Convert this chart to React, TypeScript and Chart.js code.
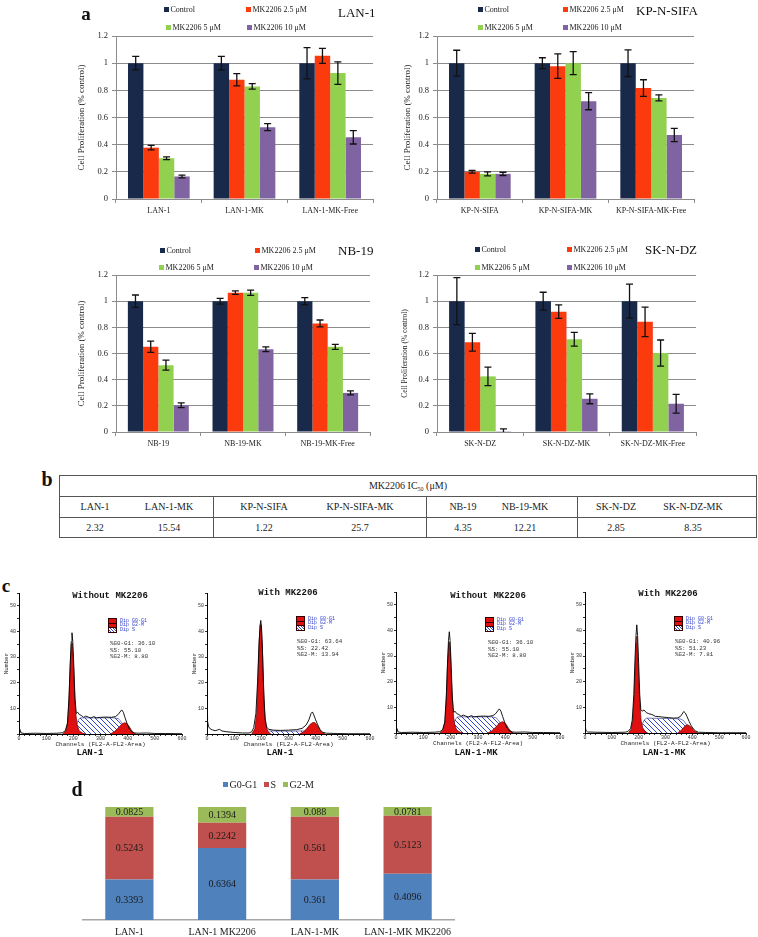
import React, { useEffect, useRef } from "react";
import { Chart, registerables } from "chart.js";
Chart.register(...registerables);

const SERIF = '"Liberation Serif", "Times New Roman", serif';
const MONO = '"Liberation Mono", "Courier New", monospace';
const GRID = "#8c8c8c";

// ---------- Panel a data ----------
const seriesNames = ["Control", "MK2206 2.5 μM", "MK2206 5 μM", "MK2206 10 μM"];
const seriesColors = ["#18294a", "#fb3a0e", "#92d050", "#8064a2"];
const yTickValues = [0, 0.2, 0.4, 0.6, 0.8, 1, 1.2];

const lanCategories = ["LAN-1", "LAN-1-MK", "LAN-1-MK-Free"];
const lanControl = [1.0, 1.0, 1.0];
const lanMk25 = [0.378, 0.878, 1.054];
const lanMk5 = [0.3, 0.829, 0.927];
const lanMk10 = [0.166, 0.529, 0.454];
const lanControlErr = [0.05, 0.05, 0.115];
const lanMk25Err = [0.017, 0.045, 0.055];
const lanMk5Err = [0.01, 0.02, 0.083];
const lanMk10Err = [0.01, 0.026, 0.049];

const kpCategories = ["KP-N-SIFA", "KP-N-SIFA-MK", "KP-N-SIFA-MK-Free"];
const kpControl = [1.0, 1.0, 1.0];
const kpMk25 = [0.2, 0.978, 0.817];
const kpMk5 = [0.185, 1.0, 0.744];
const kpMk10 = [0.185, 0.72, 0.471];
const kpControlErr = [0.095, 0.04, 0.098];
const kpMk25Err = [0.01, 0.09, 0.061];
const kpMk5Err = [0.015, 0.085, 0.022];
const kpMk10Err = [0.012, 0.063, 0.049];

const nbCategories = ["NB-19", "NB-19-MK", "NB-19-MK-Free"];
const nbControl = [1.0, 1.0, 1.0];
const nbMk25 = [0.651, 1.065, 0.83];
const nbMk5 = [0.511, 1.065, 0.651];
const nbMk10 = [0.204, 0.633, 0.299];
const nbControlErr = [0.047, 0.022, 0.027];
const nbMk25Err = [0.043, 0.013, 0.026];
const nbMk5Err = [0.038, 0.02, 0.019];
const nbMk10Err = [0.018, 0.018, 0.015];

const skCategories = ["SK-N-DZ", "SK-N-DZ-MK", "SK-N-DZ-MK-Free"];
const skControl = [1.0, 1.0, 1.0];
const skMk25 = [0.686, 0.92, 0.842];
const skMk5 = [0.425, 0.709, 0.603];
const skMk10 = [0.006, 0.254, 0.216];
const skControlErr = [0.18, 0.068, 0.13];
const skMk25Err = [0.068, 0.051, 0.113];
const skMk5Err = [0.071, 0.053, 0.1];
const skMk10Err = [0.018, 0.038, 0.072];

// ---------- Panel b data ----------
const icLines = ["LAN-1", "LAN-1-MK", "KP-N-SIFA", "KP-N-SIFA-MK", "NB-19", "NB-19-MK", "SK-N-DZ", "SK-N-DZ-MK"];
const icValues = ["2.32", "15.54", "1.22", "25.7", "4.35", "12.21", "2.85", "8.35"];

// ---------- Panel c data (channel, count) ----------
const histXTicks = [0, 20, 40, 60, 80, 100, 120, 140, 160, 180, 200, 220, 240, 260, 280, 300, 320, 340, 360, 380, 400, 420, 440, 460, 480, 500, 520, 540, 560, 580, 600];
const histYTicks = [0, 5, 10, 15, 20, 25, 30, 35, 40, 45, 50, 55];

const withoutOutline = [[0, 0.3], [3, 1.8], [8, 0.4], [20, 0.2], [60, 0.3], [100, 0.2], [140, 0.3], [160, 0.5], [170, 1.2], [178, 4], [184, 14], [188, 26], [192, 36], [195, 39.5], [198, 36], [202, 26], [206, 14], [211, 8], [216, 8.5], [222, 7.6], [230, 7.2], [238, 6.5], [246, 7], [255, 6.6], [265, 6.2], [275, 6.8], [285, 6.3], [300, 6.5], [320, 6.6], [340, 6.5], [355, 6.8], [365, 7.6], [372, 8.6], [378, 9.4], [384, 8.5], [390, 6.5], [398, 4], [406, 2], [415, 0.8], [425, 0.4], [440, 0.3], [470, 0.4], [500, 0.2], [540, 0.2], [600, 0.1]];
const withoutG0G1 = [[160, 0], [172, 1], [180, 5], [185, 16], [189, 28], [193, 35], [196, 35.5], [199, 31], [203, 20], [208, 9], [214, 3.5], [222, 1.2], [235, 0.3], [245, 0]];
const withoutS = [[200, 0], [210, 3], [218, 5.5], [226, 6.3], [250, 6.3], [300, 6.3], [350, 6.3], [365, 6], [375, 5], [385, 3.2], [395, 1.5], [405, 0.5], [415, 0]];
const withoutG2M = [[335, 0], [350, 0.8], [365, 2.3], [378, 3.8], [388, 4.4], [396, 4.2], [404, 3.2], [412, 1.8], [420, 0.7], [430, 0]];

const lanWithOutline = [[0, 7], [2, 5], [6, 2.8], [12, 2], [20, 1.6], [30, 1.3], [40, 1.6], [46, 1.8], [55, 1.2], [70, 0.9], [100, 0.6], [130, 0.4], [155, 0.4], [165, 0.9], [172, 2.5], [180, 8], [186, 20], [191, 34], [195, 42], [198, 44.3], [201, 41], [205, 30], [209, 16], [214, 6], [220, 2.6], [228, 1.8], [245, 1.5], [270, 1.4], [300, 1.5], [330, 1.7], [350, 2.2], [365, 3.5], [375, 5.5], [383, 8], [388, 8.6], [393, 7.5], [400, 5.5], [408, 3.5], [416, 1.8], [425, 0.7], [440, 0.3], [480, 0.2], [520, 0.1], [600, 0.1]];
const lanWithG0G1 = [[165, 0], [176, 2], [183, 8], [188, 22], [192, 36], [196, 42.5], [199, 42.7], [203, 36], [207, 22], [211, 10], [216, 3.5], [224, 1], [235, 0]];
const lanWithS = [[205, 0], [215, 0.9], [230, 1.2], [300, 1.1], [350, 1.2], [370, 1.1], [385, 0.6], [400, 0]];
const lanWithG2M = [[340, 0], [355, 0.8], [368, 2.2], [380, 3.8], [390, 4.5], [398, 4.4], [406, 3.3], [414, 1.8], [422, 0.7], [435, 0]];

const mkWithOutline = [[0, 2.6], [4, 1], [10, 0.4], [40, 0.3], [100, 0.2], [150, 0.3], [160, 0.6], [170, 1.8], [176, 5], [182, 15], [186, 28], [190, 38], [193, 42.2], [196, 38], [200, 27], [204, 15], [208, 9], [213, 8.5], [220, 9], [228, 8], [238, 7.5], [250, 7.2], [262, 6.5], [275, 6.4], [290, 6.2], [310, 6], [330, 5.8], [345, 5.9], [355, 6.4], [362, 7.4], [368, 8.4], [374, 7.8], [380, 6.5], [388, 4.5], [396, 2.8], [404, 1.6], [412, 0.8], [422, 0.3], [450, 0.2], [500, 0.1], [600, 0.1]];
const mkWithG0G1 = [[162, 0], [172, 1.5], [178, 5], [183, 14], [187, 26], [191, 35], [193, 37.7], [196, 33], [200, 22], [204, 12], [209, 5], [215, 2], [224, 0.6], [234, 0]];
const mkWithS = [[200, 0], [210, 2.5], [220, 5], [230, 5.8], [280, 5.7], [330, 5.6], [355, 5.5], [368, 4.8], [380, 3], [392, 1.3], [402, 0]];
const mkWithG2M = [[345, 0], [358, 1], [368, 2.2], [376, 3], [382, 3.2], [390, 2.8], [398, 2], [406, 1], [414, 0.3], [422, 0]];

// ---------- Panel d data ----------
const cycleCategories = ["LAN-1", "LAN-1 MK2206", "LAN-1-MK", "LAN-1-MK MK2206"];
const cyclePhases = ["G0-G1", "S", "G2-M"];
const cycleColors = ["#4f81bd", "#c0504d", "#9bbb59"];
const g0g1Values = [0.3393, 0.6364, 0.361, 0.4096];
const sValues = [0.5243, 0.2242, 0.561, 0.5123];
const g2mValues = [0.0825, 0.1394, 0.088, 0.0781];

// ---------- plugins ----------
const errorBarPlugin = {
  id: "errorBars",
  afterDatasetsDraw(chart: any) {
    const ctx = chart.ctx;
    const y = chart.scales.y;
    chart.data.datasets.forEach((ds: any, i: number) => {
      const meta = chart.getDatasetMeta(i);
      if (!ds.errors) return;
      meta.data.forEach((bar: any, j: number) => {
        const v = ds.data[j];
        const e = ds.errors[j];
        const x = bar.x;
        const yt = y.getPixelForValue(v + e);
        const yb = y.getPixelForValue(Math.max(0, v - e));
        ctx.save();
        ctx.strokeStyle = "#111";
        ctx.lineWidth = 1.3;
        ctx.beginPath();
        ctx.moveTo(x, yt);
        ctx.lineTo(x, yb);
        ctx.moveTo(x - 3.5, yt);
        ctx.lineTo(x + 3.5, yt);
        if (v - e > 0) {
          ctx.moveTo(x - 3.5, yb);
          ctx.lineTo(x + 3.5, yb);
        }
        ctx.stroke();
        ctx.restore();
      });
    });
  },
};

const segLabelPlugin = {
  id: "segLabels",
  afterDatasetsDraw(chart: any) {
    const ctx = chart.ctx;
    chart.data.datasets.forEach((ds: any, i: number) => {
      const meta = chart.getDatasetMeta(i);
      meta.data.forEach((bar: any, j: number) => {
        const { x, y, base } = bar.getProps(["x", "y", "base"], true);
        ctx.save();
        ctx.font = `10px ${SERIF}`;
        ctx.fillStyle = "#1a1a1a";
        ctx.textAlign = "center";
        ctx.textBaseline = "middle";
        ctx.fillText(String(ds.raw[j]), x, (y + base) / 2 + 0.5);
        ctx.restore();
      });
    });
  },
};

// ---------- generic canvas ----------
function ChartBox({ left, top, width, height, make }: any) {
  const ref = useRef<HTMLCanvasElement>(null);
  useEffect(() => {
    const chart = new Chart(ref.current as HTMLCanvasElement, make());
    return () => chart.destroy();
  }, []);
  return (
    <canvas
      ref={ref}
      width={width}
      height={height}
      style={{ position: "absolute", left, top, width, height, display: "block" }}
    />
  );
}

function Txt({ x, y, size, text, family = SERIF, weight = 400, color = "#222", anchor = "center" }: any) {
  return (
    <div
      style={{
        position: "absolute",
        left: x,
        top: y,
        transform: anchor === "center" ? "translate(-50%,-50%)" : "translate(0,-50%)",
        fontFamily: family,
        fontSize: size,
        fontWeight: weight,
        color,
        whiteSpace: "pre",
        lineHeight: 1,
      }}
    >
      {text}
    </div>
  );
}

// ---------- Panel a ----------
function barConfig(cats: string[], values: number[][], errors: number[][], o: any) {
  return {
    type: "bar",
    data: {
      labels: cats,
      datasets: values.map((d, i) => ({
        label: seriesNames[i],
        data: d,
        errors: errors[i],
        backgroundColor: seriesColors[i],
        borderWidth: 0,
        barPercentage: 1,
        categoryPercentage: 0.72,
      })),
    },
    options: {
      animation: false,
      responsive: false,
      maintainAspectRatio: false,
      events: [],
      layout: { padding: { left: o.padL, right: o.padR, top: o.padT, bottom: 0 } },
      plugins: { legend: { display: false }, tooltip: { enabled: false } },
      scales: {
        x: {
          grid: { drawOnChartArea: false, color: GRID, tickLength: 4 },
          border: { color: GRID, width: 1 },
          ticks: { font: { family: SERIF, size: 8 }, color: "#222", padding: 3, maxRotation: 0, autoSkip: false },
          afterFit: (s: any) => {
            s.height = o.xH;
          },
        },
        y: {
          min: 0,
          max: 1.2,
          afterBuildTicks: (s: any) => {
            s.ticks = yTickValues.map((v) => ({ value: v }));
          },
          ticks: {
            font: { family: SERIF, size: o.tickFont },
            color: "#222",
            padding: 4,
            callback: (v: any) => String(Math.round(v * 10) / 10),
          },
          grid: { color: GRID, tickLength: 4 },
          border: { color: GRID },
          title: {
            display: true,
            text: "Cell Proliferation (% control)",
            font: { family: SERIF, size: o.titleFont },
            color: "#222",
            padding: 0,
          },
          afterFit: (s: any) => {
            s.width = o.yW;
          },
        },
      },
    },
    plugins: [errorBarPlugin],
  };
}

function BarLegend({ items }: any) {
  return (
    <>
      {items.map((it: any, i: number) => (
        <div
          key={i}
          style={{
            position: "absolute",
            left: it.x,
            top: it.y - 6,
            height: 12,
            display: "flex",
            alignItems: "center",
            fontFamily: SERIF,
            fontSize: 8,
            color: "#222",
            whiteSpace: "nowrap",
          }}
        >
          <span style={{ display: "inline-block", width: 5, height: 5, background: seriesColors[it.s], marginRight: 1.5 }} />
          {seriesNames[it.s]}
        </div>
      ))}
    </>
  );
}

function legendAt(x1: number, x2: number, y1: number, y2: number, x3?: number, x4?: number) {
  return [
    { s: 0, x: x1, y: y1 },
    { s: 1, x: x2, y: y1 },
    { s: 2, x: x3 ?? x1, y: y2 },
    { s: 3, x: x4 ?? x2, y: y2 },
  ];
}

// ---------- Panel c ----------
function makeHatch() {
  const c = document.createElement("canvas");
  c.width = 5;
  c.height = 5;
  const g = c.getContext("2d") as CanvasRenderingContext2D;
  g.fillStyle = "#ffffff";
  g.fillRect(0, 0, 5, 5);
  g.strokeStyle = "#3346c8";
  g.lineWidth = 1;
  g.beginPath();
  g.moveTo(-1, -1);
  g.lineTo(6, 6);
  g.stroke();
  return g.createPattern(c, "repeat");
}

const pts = (arr: number[][]) => arr.map(([x, y]) => ({ x, y }));

function histConfig(outline: number[][], g0: number[][], s: number[][], g2: number[][], padR: number) {
  const hatch = makeHatch();
  return {
    type: "line",
    data: {
      datasets: [
        { data: pts(outline), borderColor: "#000", borderWidth: 0.9, fill: false, pointRadius: 0, tension: 0 },
        { data: pts(g2), borderColor: "#700000", borderWidth: 0.7, backgroundColor: "#e01010", fill: "origin", pointRadius: 0 },
        { data: pts(g0), borderColor: "#700000", borderWidth: 0.7, backgroundColor: "#e01010", fill: "origin", pointRadius: 0 },
        { data: pts(s), borderColor: "#202a80", borderWidth: 0.6, backgroundColor: hatch, fill: "origin", pointRadius: 0 },
      ],
    },
    options: {
      animation: false,
      responsive: false,
      maintainAspectRatio: false,
      events: [],
      layout: { padding: { left: 0, right: padR, top: 15, bottom: 0 } },
      plugins: { legend: { display: false }, tooltip: { enabled: false } },
      scales: {
        x: {
          type: "linear",
          min: 0,
          max: 600,
          afterBuildTicks: (sc: any) => {
            sc.ticks = histXTicks.map((v) => ({ value: v }));
          },
          ticks: {
            autoSkip: false,
            maxRotation: 0,
            font: { family: MONO, size: 5 },
            color: "#333",
            padding: 0,
            callback: (v: any) => (v % 100 === 0 ? String(v) : ""),
          },
          grid: { drawOnChartArea: false, color: "#000", tickLength: 2, lineWidth: 0.8 },
          border: { color: "#000", width: 1 },
          title: {
            display: true,
            text: "Channels (FL2-A-FL2-Area)",
            font: { family: MONO, size: 6 },
            color: "#222",
            padding: { top: 0, bottom: 10 },
          },
          afterFit: (sc: any) => {
            sc.height = 24;
          },
        },
        y: {
          min: 0,
          max: 55,
          afterBuildTicks: (sc: any) => {
            sc.ticks = histYTicks.map((v) => ({ value: v }));
          },
          ticks: {
            autoSkip: false,
            font: { family: MONO, size: 5 },
            color: "#333",
            padding: 1,
            callback: (v: any) => (v % 10 === 0 && v > 0 ? String(v) : ""),
          },
          grid: { drawOnChartArea: false, color: "#000", tickLength: 2, lineWidth: 0.8 },
          border: { color: "#000", width: 1 },
          title: {
            display: true,
            text: "Number",
            font: { family: MONO, size: 6 },
            color: "#222",
            padding: { top: 3, bottom: 0 },
          },
          afterFit: (sc: any) => {
            sc.width = 19;
          },
        },
      },
    },
  };
}

function HistText({ title, tx, ty, lx, ly, sx, sy, stats, label, bx }: any) {
  const rows = [
    ["Dip G0-G1", "#e01010"],
    ["Dip G2-M", "#e01010"],
    ["Dip S", "hatch"],
  ];
  return (
    <>
      <Txt x={tx} y={ty} size={9} family={MONO} weight={700} text={title} color="#111" />
      {rows.map((r, i) => (
        <div key={i} style={{ position: "absolute", left: lx, top: ly + i * 4.5, height: 4.5, display: "flex", alignItems: "center" }}>
          <span
            style={{
              display: "inline-block",
              width: 7,
              height: 4,
              border: "0.5px solid #300",
              background:
                r[1] === "hatch"
                  ? "repeating-linear-gradient(45deg, #fff 0px, #fff 1px, #3346c8 1px, #3346c8 2px)"
                  : r[1],
              marginRight: 3,
            }}
          />
          <span style={{ fontFamily: MONO, fontSize: 5, color: "#3344cc", lineHeight: 1 }}>{r[0]}</span>
        </div>
      ))}
      {stats.map((s: string, i: number) => (
        <Txt key={i} x={sx} y={sy + i * 6.5} size={5.8} family={MONO} text={s} color="#333" anchor="left" />
      ))}
      <Txt x={bx} y={753} size={9} family={MONO} weight={700} text={label} color="#111" />
    </>
  );
}

// ---------- Panel d ----------
function cycleConfig() {
  const raws = [g0g1Values, sValues, g2mValues];
  const totals = g0g1Values.map((_, j) => raws.reduce((a, r) => a + r[j], 0));
  return {
    type: "bar",
    data: {
      labels: cycleCategories,
      datasets: raws.map((r, i) => ({
        label: cyclePhases[i],
        data: r.map((v, j) => v / totals[j]),
        raw: r,
        backgroundColor: cycleColors[i],
        borderWidth: 0,
        barPercentage: 0.52,
        categoryPercentage: 1,
      })),
    },
    options: {
      animation: false,
      responsive: false,
      maintainAspectRatio: false,
      events: [],
      layout: { padding: { left: 83, right: 83, top: 12, bottom: 0 } },
      plugins: { legend: { display: false }, tooltip: { enabled: false } },
      scales: {
        x: {
          stacked: true,
          grid: { display: true, drawOnChartArea: false, drawTicks: false },
          border: { color: "#a6a6a6", width: 1.5 },
          ticks: { font: { family: SERIF, size: 10 }, color: "#222", padding: 6, maxRotation: 0, autoSkip: false },
          afterFit: (s: any) => {
            s.height = 17;
          },
        },
        y: { stacked: true, min: 0, max: 1, display: false },
      },
    },
    plugins: [segLabelPlugin],
  };
}

// ---------- Table ----------
function IcTable() {
  const L = 59, T = 475, R = 757, H1 = 496, H2 = 517, B = 538;
  const line = "#555";
  const centers = [95, 169, 264, 360, 463, 525, 616, 693];
  const dividers = [213, 426, 577];
  return (
    <>
      <div style={{ position: "absolute", left: L, top: T, width: R - L, height: B - T, border: `1px solid ${line}`, boxSizing: "border-box" }} />
      <div style={{ position: "absolute", left: L, top: H1, width: R - L, height: 1, background: line }} />
      <div style={{ position: "absolute", left: L, top: H2, width: R - L, height: 1, background: line }} />
      {dividers.map((x, i) => (
        <div key={i} style={{ position: "absolute", left: x, top: H1, width: 1, height: B - H1, background: line }} />
      ))}
      <Txt
        x={(L + R) / 2}
        y={486}
        size={10}
        text={
          <span>
            MK2206 IC<sub style={{ fontSize: 6, verticalAlign: "-2px" }}>50</sub> (μM)
          </span>
        }
      />
      {icLines.map((t, i) => (
        <Txt key={"n" + i} x={centers[i]} y={507} size={10} text={t} />
      ))}
      {icValues.map((t, i) => (
        <Txt key={"v" + i} x={centers[i]} y={528} size={10} text={t} />
      ))}
    </>
  );
}

export default function App() {
  return (
    <div style={{ position: "absolute", left: 0, top: 0, width: 758, height: 937, background: "#fff", overflow: "hidden" }}>
      {/* Panel a */}
      <ChartBox
        left={0}
        top={0}
        width={378}
        height={230}
        make={() =>
          barConfig(lanCategories, [lanControl, lanMk25, lanMk5, lanMk10], [lanControlErr, lanMk25Err, lanMk5Err, lanMk10Err], {
            padL: 76.6, yW: 39.4, padR: 5, padT: 36, xH: 31, tickFont: 8.5, titleFont: 9,
          })
        }
      />
      <ChartBox
        left={378}
        top={0}
        width={380}
        height={230}
        make={() =>
          barConfig(kpCategories, [kpControl, kpMk25, kpMk5, kpMk10], [kpControlErr, kpMk25Err, kpMk5Err, kpMk10Err], {
            padL: 24.6, yW: 34.4, padR: 64, padT: 36, xH: 31, tickFont: 8.5, titleFont: 9,
          })
        }
      />
      <ChartBox
        left={0}
        top={230}
        width={378}
        height={230}
        make={() =>
          barConfig(nbCategories, [nbControl, nbMk25, nbMk5, nbMk10], [nbControlErr, nbMk25Err, nbMk5Err, nbMk10Err], {
            padL: 76.6, yW: 39.4, padR: 8, padT: 45, xH: 28, tickFont: 8.5, titleFont: 9,
          })
        }
      />
      <ChartBox
        left={378}
        top={230}
        width={380}
        height={230}
        make={() =>
          barConfig(skCategories, [skControl, skMk25, skMk5, skMk10], [skControlErr, skMk25Err, skMk5Err, skMk10Err], {
            padL: 22.5, yW: 36.5, padR: 62, padT: 45, xH: 28, tickFont: 8.5, titleFont: 7.5,
          })
        }
      />
      <BarLegend items={legendAt(164, 246, 9.5, 27.7, 166, 247)} />
      <BarLegend items={legendAt(478, 563, 9.5, 27.7)} />
      <BarLegend items={legendAt(160, 255, 250, 267, 159, 254)} />
      <BarLegend items={legendAt(475, 567, 249, 267)} />
      <Txt x={338} y={12} size={13} text="LAN-1" anchor="left" color="#111" />
      <Txt x={636} y={10} size={13} text="KP-N-SIFA" anchor="left" color="#111" />
      <Txt x={338} y={250} size={13} text="NB-19" anchor="left" color="#111" />
      <Txt x={645} y={249} size={13} text="SK-N-DZ" anchor="left" color="#111" />
      <Txt x={86} y={13} size={19} weight={700} text="a" color="#111" />

      {/* Panel b */}
      <Txt x={47} y={479} size={20} weight={700} text="b" color="#111" />
      <IcTable />

      {/* Panel c */}
      <Txt x={6} y={585} size={19} weight={700} text="c" color="#111" />
      <ChartBox left={0} top={578} width={188} height={180} make={() => histConfig(withoutOutline, withoutG0G1, withoutS, withoutG2M, 6)} />
      <ChartBox left={188} top={578} width={188} height={180} make={() => histConfig(lanWithOutline, lanWithG0G1, lanWithS, lanWithG2M, 6)} />
      <ChartBox left={377} top={577} width={188} height={180} make={() => histConfig(withoutOutline, withoutG0G1, withoutS, withoutG2M, 5)} />
      <ChartBox left={566} top={577} width={188} height={180} make={() => histConfig(mkWithOutline, mkWithG0G1, mkWithS, mkWithG2M, 8)} />
      <HistText title="Without MK2206" tx={110} ty={596} lx={108} ly={619} sx={110} sy={644} bx={90}
        stats={["%G0-G1: 36.10", "%S: 55.10", "%G2-M: 8.80"]} label="LAN-1" />
      <HistText title="With MK2206" tx={288} ty={593} lx={296} ly={617} sx={297} sy={642} bx={280}
        stats={["%G0-G1: 63.64", "%S: 22.42", "%G2-M: 13.94"]} label="LAN-1" />
      <HistText title="Without MK2206" tx={488} ty={596} lx={485} ly={618} sx={488} sy={643} bx={476}
        stats={["%G0-G1: 36.10", "%S: 55.10", "%G2-M: 8.80"]} label="LAN-1-MK" />
      <HistText title="With MK2206" tx={668} ty={594} lx={674} ly={617} sx={675} sy={642} bx={664}
        stats={["%G0-G1: 40.96", "%S: 51.23", "%G2-M: 7.81"]} label="LAN-1-MK" />

      {/* Panel d */}
      <Txt x={77} y={789} size={20} weight={700} text="d" color="#111" />
      {cyclePhases.map((p, i) => (
        <div
          key={p}
          style={{
            position: "absolute",
            left: [223, 264, 283][i],
            top: 778,
            height: 12,
            display: "flex",
            alignItems: "center",
            fontFamily: SERIF,
            fontSize: 10,
            color: "#222",
            whiteSpace: "nowrap",
          }}
        >
          <span style={{ display: "inline-block", width: 5, height: 5, background: cycleColors[i], marginRight: 1.5 }} />
          {p}
        </div>
      ))}
      <ChartBox left={0} top={795} width={537} height={142} make={cycleConfig} />
    </div>
  );
}
